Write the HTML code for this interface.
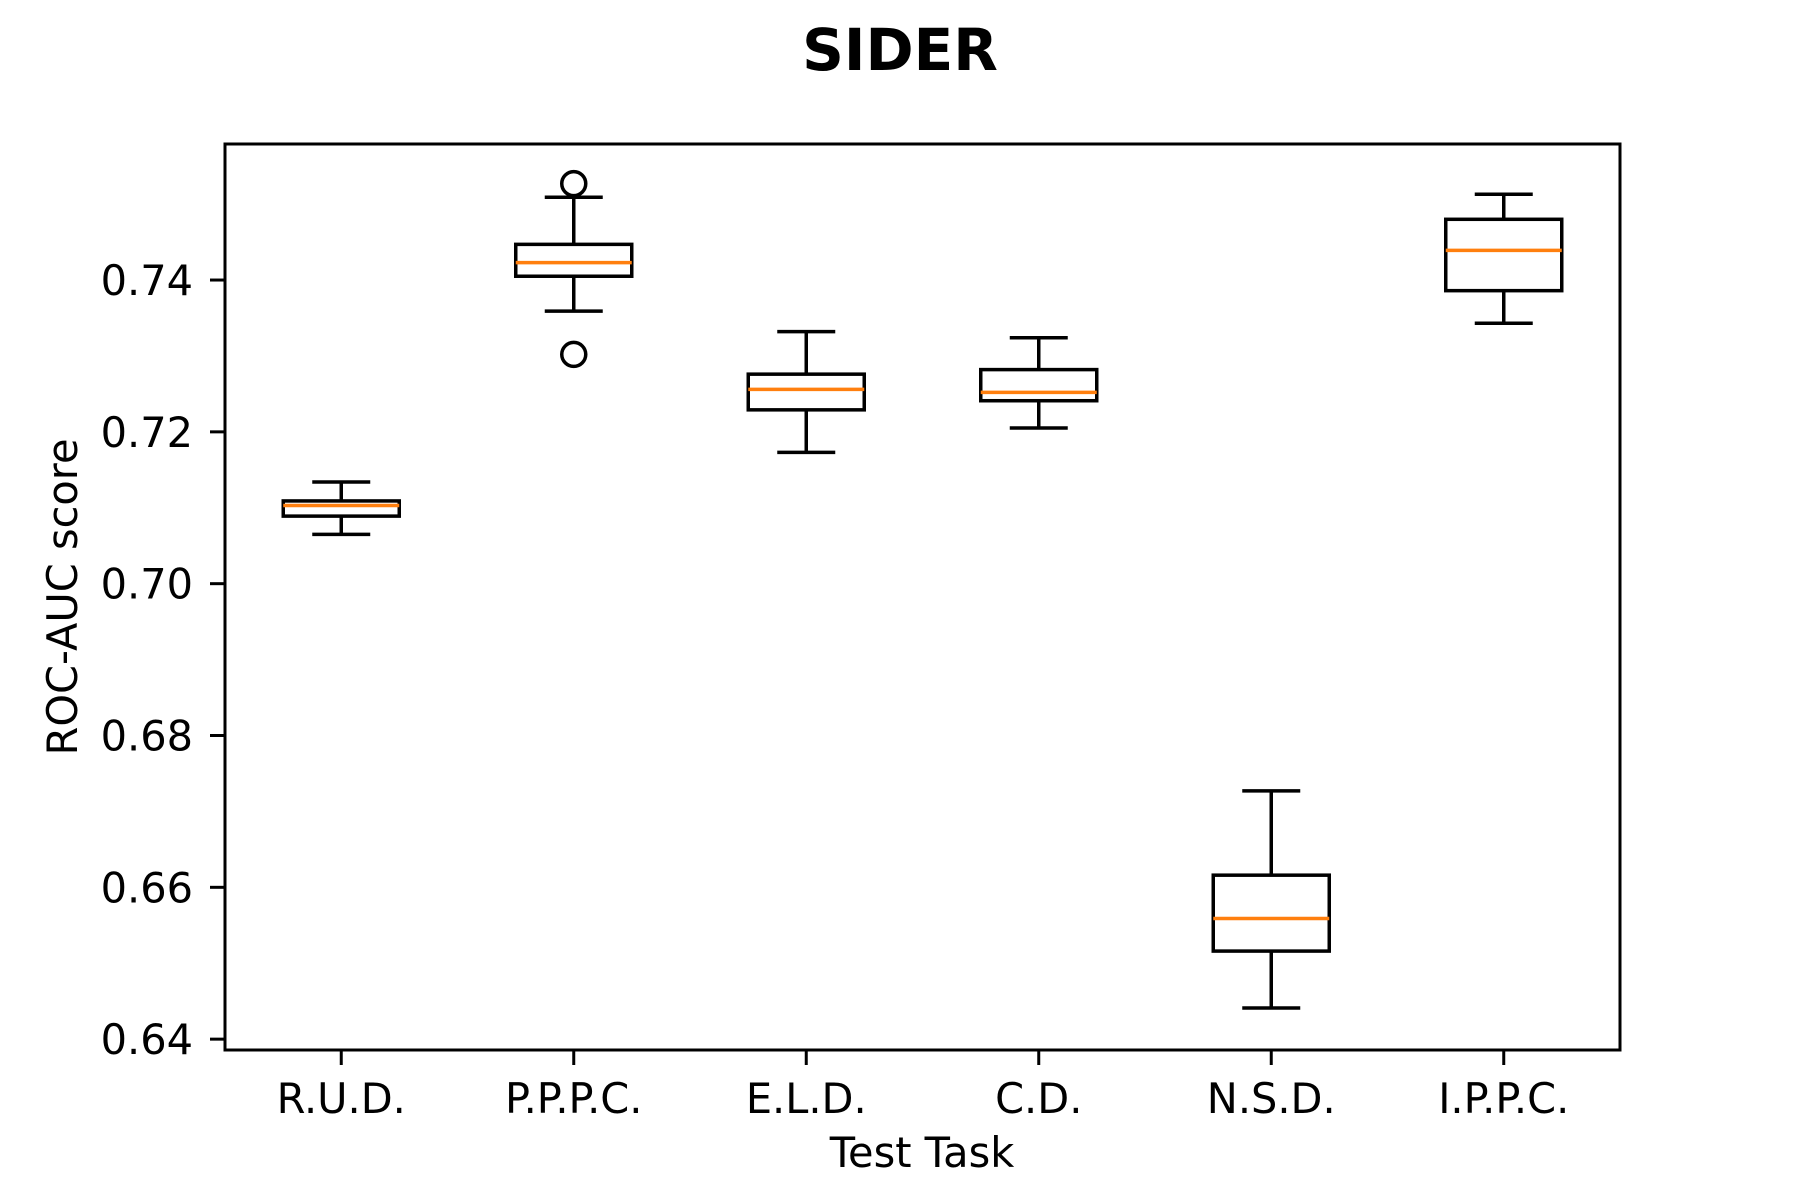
<!DOCTYPE html>
<html><head><meta charset="utf-8"><style>
html,body{margin:0;padding:0;background:#fff;}
svg{display:block;font-family:"DejaVu Sans","Liberation Sans",sans-serif;}
</style></head><body>
<svg id="chart" width="1800" height="1200" viewBox="0 0 1800 1200" xmlns="http://www.w3.org/2000/svg">
<rect width="1800" height="1200" fill="#fff"/>
<text x="900" y="70" text-anchor="middle" font-size="58" font-weight="bold">SIDER</text>
<text transform="translate(77,597) rotate(-90)" text-anchor="middle" font-size="41.5">ROC-AUC score</text>
<text x="922" y="1167" text-anchor="middle" font-size="41.5">Test Task</text>
<g id="marks"></g>
<rect x="225" y="144" width="1395" height="906" fill="none" stroke="#000" stroke-width="3"/>
</svg>
<script>
const categories = ["R.U.D.", "P.P.P.C.", "E.L.D.", "C.D.", "N.S.D.", "I.P.P.C."];
const whiskerLow = [0.7065, 0.7359, 0.7173, 0.7205, 0.6441, 0.7343];
const q1 = [0.7089, 0.7405, 0.7229, 0.7241, 0.6516, 0.7386];
const medians = [0.7103, 0.7423, 0.7256, 0.7252, 0.6559, 0.7439];
const q3 = [0.7109, 0.7447, 0.7276, 0.7282, 0.6616, 0.7480];
const whiskerHigh = [0.7134, 0.7509, 0.7332, 0.7324, 0.6727, 0.7513];
const outliers = [[], [0.7527, 0.7302], [], [], [], []];
const yTicks = [0.64, 0.66, 0.68, 0.70, 0.72, 0.74];
const yTickLabels = ["0.64", "0.66", "0.68", "0.70", "0.72", "0.74"];

const L = 225, R = 1620, T = 144, B = 1050;
const yMin = 0.63857, yMax = 0.75792;
function y(v) { return B - (v - yMin) / (yMax - yMin) * (B - T); }
function x(i) { return L + (i + 0.5) * (R - L) / categories.length; }
const NS = "http://www.w3.org/2000/svg";
const g = document.getElementById("marks");
function mk(tag, attrs, parent) {
  const e = document.createElementNS(NS, tag);
  for (const k in attrs) e.setAttribute(k, attrs[k]);
  (parent || g).appendChild(e);
  return e;
}
const boxW = 116, capW = 58, lw = 3.5;
yTicks.forEach((v, i) => {
  const t = mk("line", {x1: L - 15, x2: L, y1: y(v), y2: y(v), stroke: "#000", "stroke-width": 3});
  
  
  const tx = mk("text", {x: L - 32, y: y(v) + 15, "text-anchor": "end", "font-size": 41.5});
  tx.textContent = yTickLabels[i];
  
  
});
categories.forEach((c, i) => {
  const cx = x(i);
  const t = mk("line", {x1: cx, x2: cx, y1: B, y2: B + 15, stroke: "#000", "stroke-width": 3});
  
  
  const tx = mk("text", {x: cx, y: B + 63, "text-anchor": "middle", "font-size": 41.5});
  tx.textContent = c;
  
  
  const grp = mk("g", {});
  
  
  const s = {stroke: "#000", "stroke-width": lw, fill: "none"};
  mk("line", Object.assign({x1: cx, x2: cx, y1: y(q3[i]), y2: y(whiskerHigh[i])}, s), grp);
  mk("line", Object.assign({x1: cx, x2: cx, y1: y(q1[i]), y2: y(whiskerLow[i])}, s), grp);
  mk("line", Object.assign({x1: cx - capW / 2, x2: cx + capW / 2, y1: y(whiskerHigh[i]), y2: y(whiskerHigh[i])}, s), grp);
  mk("line", Object.assign({x1: cx - capW / 2, x2: cx + capW / 2, y1: y(whiskerLow[i]), y2: y(whiskerLow[i])}, s), grp);
  mk("rect", Object.assign({x: cx - boxW / 2, y: y(q3[i]), width: boxW, height: y(q1[i]) - y(q3[i])}, s), grp);
  const m = mk("line", {x1: cx - boxW / 2, x2: cx + boxW / 2, y1: y(medians[i]), y2: y(medians[i]), stroke: "#ff7f0e", "stroke-width": lw}, grp);
  
  
  outliers[i].forEach(v => {
    const o = mk("circle", {cx: cx, cy: y(v), r: 12, fill: "none", stroke: "#000", "stroke-width": lw}, grp);
    
    
  });
});
</script>
</body></html>
